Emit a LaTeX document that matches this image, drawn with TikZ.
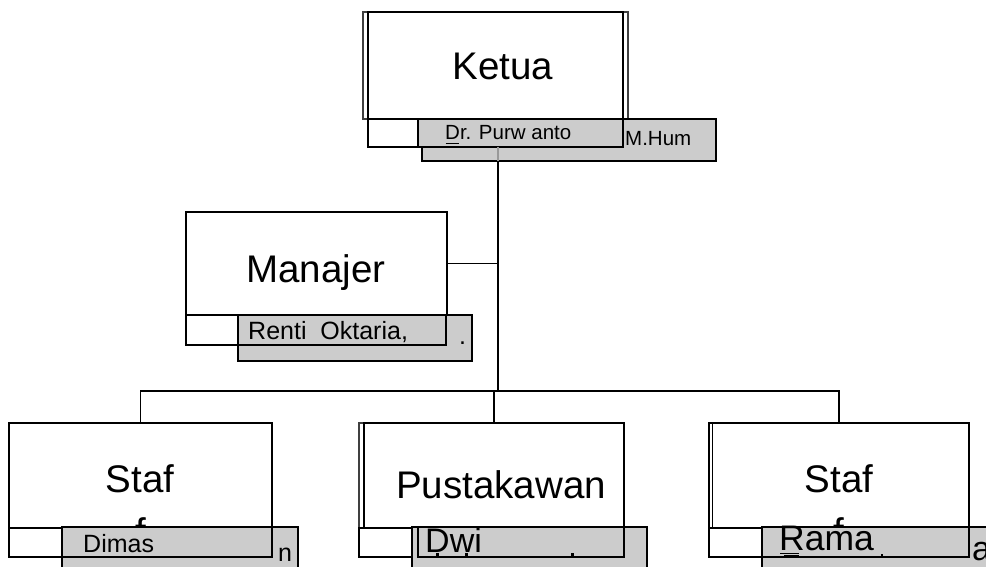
\documentclass[tikz,border=0pt]{standalone}
\usepackage{fontspec}
\setmainfont{Liberation Sans}
\usetikzlibrary{fit}
\definecolor{boxgray}{HTML}{CCCCCC}
\begin{document}
\begin{tikzpicture}[x=1pt,y=-1pt,line join=miter,
  mainbox/.style={draw=black,line width=2.4pt,fill=white,rectangle,inner sep=0pt,outer sep=0pt},
  thinbox/.style={draw=black!75,line width=1.2pt,fill=white,rectangle,inner sep=0pt,outer sep=0pt},
  stripbox/.style={draw=black,line width=1.8pt,fill=white,rectangle,inner sep=0pt,outer sep=0pt},
  backbox/.style={draw=black,line width=2pt,fill=boxgray,rectangle,inner sep=0pt,outer sep=0pt},
  frontbox/.style={draw=black,line width=2.4pt,fill=boxgray,rectangle,inner sep=0pt,outer sep=0pt},
  titletext/.style={inner sep=0pt,font=\fontsize{38.5}{44}\selectfont},
  nametext/.style={inner sep=0pt,font=\fontsize{25}{29}\selectfont},
  smalltext/.style={inner sep=0pt,font=\fontsize{20.5}{24}\selectfont},
  bigname/.style={inner sep=0pt,font=\fontsize{34}{40}\selectfont},
  conn/.style={draw=black,line width=1.5pt},
  glyphbit/.style={fill=black}]
\clip (0,0) rectangle (986,567);
\fill[white] (0,0) rectangle (986,567);

\coordinate (hub) at (498,391);

% ---------- Ketua ----------
\node[thinbox, fit={(363,12) (628,119)}] (ketuaouter) {};
\node[mainbox, fit={(368,12) (623,119)}] (ketua) {};
\node[titletext, anchor=base] (ketuat) at (503,80) {Ketua};
\node[stripbox, fit={(368,119) (623,147)}] (ketuastrip) {};
\node[backbox, fit={(422,119) (716,161)}] (ketuaback) {};
\node[frontbox, fit={(418,119) (623,147)}] (ketuaname) {};
\node[smalltext, anchor=base west] (ketuan) at (445,140) {Dr. Purw anto};
\draw[line width=1.1pt] (445.5,143.5) -- (459,143.5);
\node[smalltext, anchor=base west] (ketuah) at (625,146) {M.Hum};

% ---------- Manajer ----------
\node[mainbox, fit={(186,212) (447,315)}] (manajer) {};
\node[titletext, anchor=base] (manajert) at (316,282) {Manajer};
\node[stripbox, fit={(186,315) (446,345)}] (manajerstrip) {};
\node[backbox, fit={(238,315) (472,361)}] (manajerback) {};
\node[frontbox, fit={(238,315) (446,345)}] (manajername) {};
\node[nametext, anchor=base west] (manajern) at (248,339) {Renti\ \ Oktaria,};
\node[nametext, anchor=base west] (manajerd) at (459,344) {.};

% ---------- Staf (left) ----------
\node[mainbox, fit={(9,423) (272,528)}] (stafL) {};
\node[titletext, anchor=base] (stafLt) at (140,492) {Staf};
\node[titletext, anchor=base] (stafLf) at (141,545) {f};
\node[stripbox, fit={(9,528) (272,557)}] (stafLstrip) {};
\node[backbox, fit={(62,527) (298,600)}] (stafLback) {};
\node[frontbox, fit={(62,527) (272,557)}] (stafLname) {};
\node[nametext, anchor=base west] (stafLn) at (83,552) {Dimas};
\node[nametext, anchor=base west] (stafLx) at (278,561) {n};

% ---------- Pustakawan ----------
\node[thinbox, fit={(359,423) (620,528)}] (pustouter) {};
\node[mainbox, fit={(364,423) (624,528)}] (pust) {};
\node[titletext, anchor=base] (pustt) at (501,498) {Pustakawan};
\node[thinbox, line width=1.6pt, draw=black, fit={(359,528) (624,557)}] (puststrip) {};
\node[backbox, line width=1.4pt, fit={(412,527) (647,600)}] (pustback) {};
\node[frontbox, fit={(418,527) (624,557)}] (pustname) {};
\node[bigname, anchor=base west] (pustn) at (425,552) {Dwi};
\fill[glyphbit] (435.5,553) rectangle (438.5,557);
\fill[glyphbit] (464.5,553) rectangle (467.5,557);
\fill[glyphbit] (570.5,553) rectangle (573.5,557);

% ---------- Staf (right) ----------
\node[mainbox, fit={(709,423) (969,528)}] (stafR) {};
\draw[line width=1.2pt] (712.5,424) -- (712.5,527);
\node[titletext, anchor=base] (stafRt) at (839,492) {Staf};
\node[titletext, anchor=base] (stafRf) at (839,545) {f};
\node[stripbox, fit={(709,528) (969,557)}] (stafRstrip) {};
\node[backbox, fit={(762,527) (1000,600)}] (stafRback) {};
\node[frontbox, fit={(762,527) (969,557)}] (stafRname) {};
\node[bigname, font=\fontsize{35.5}{41}\selectfont, anchor=base west] (stafRn) at (779,550) {Rama};
\draw[line width=1.1pt] (780,553.5) -- (799,553.5);
\fill[glyphbit] (784,555) rectangle (799,557);
\fill[glyphbit] (880.5,554) rectangle (882.5,557);
\node[bigname, anchor=base west] (stafRx) at (972,560) {a};

% ---------- Connectors ----------
\draw[conn] (hub) -- (hub |- ketuaback.south);
\draw[conn, draw=black!40] (hub |- ketuaback.south) -- (hub |- ketuaname.south);
\draw[conn] (manajer.east) -- (manajer.east -| hub);
\draw[conn] (stafL.north) -- (stafL.north |- hub) -- (stafR.north |- hub) -- (stafR.north);
\draw[conn] (pust.north) -- (pust.north |- hub);
\end{tikzpicture}
\end{document}
